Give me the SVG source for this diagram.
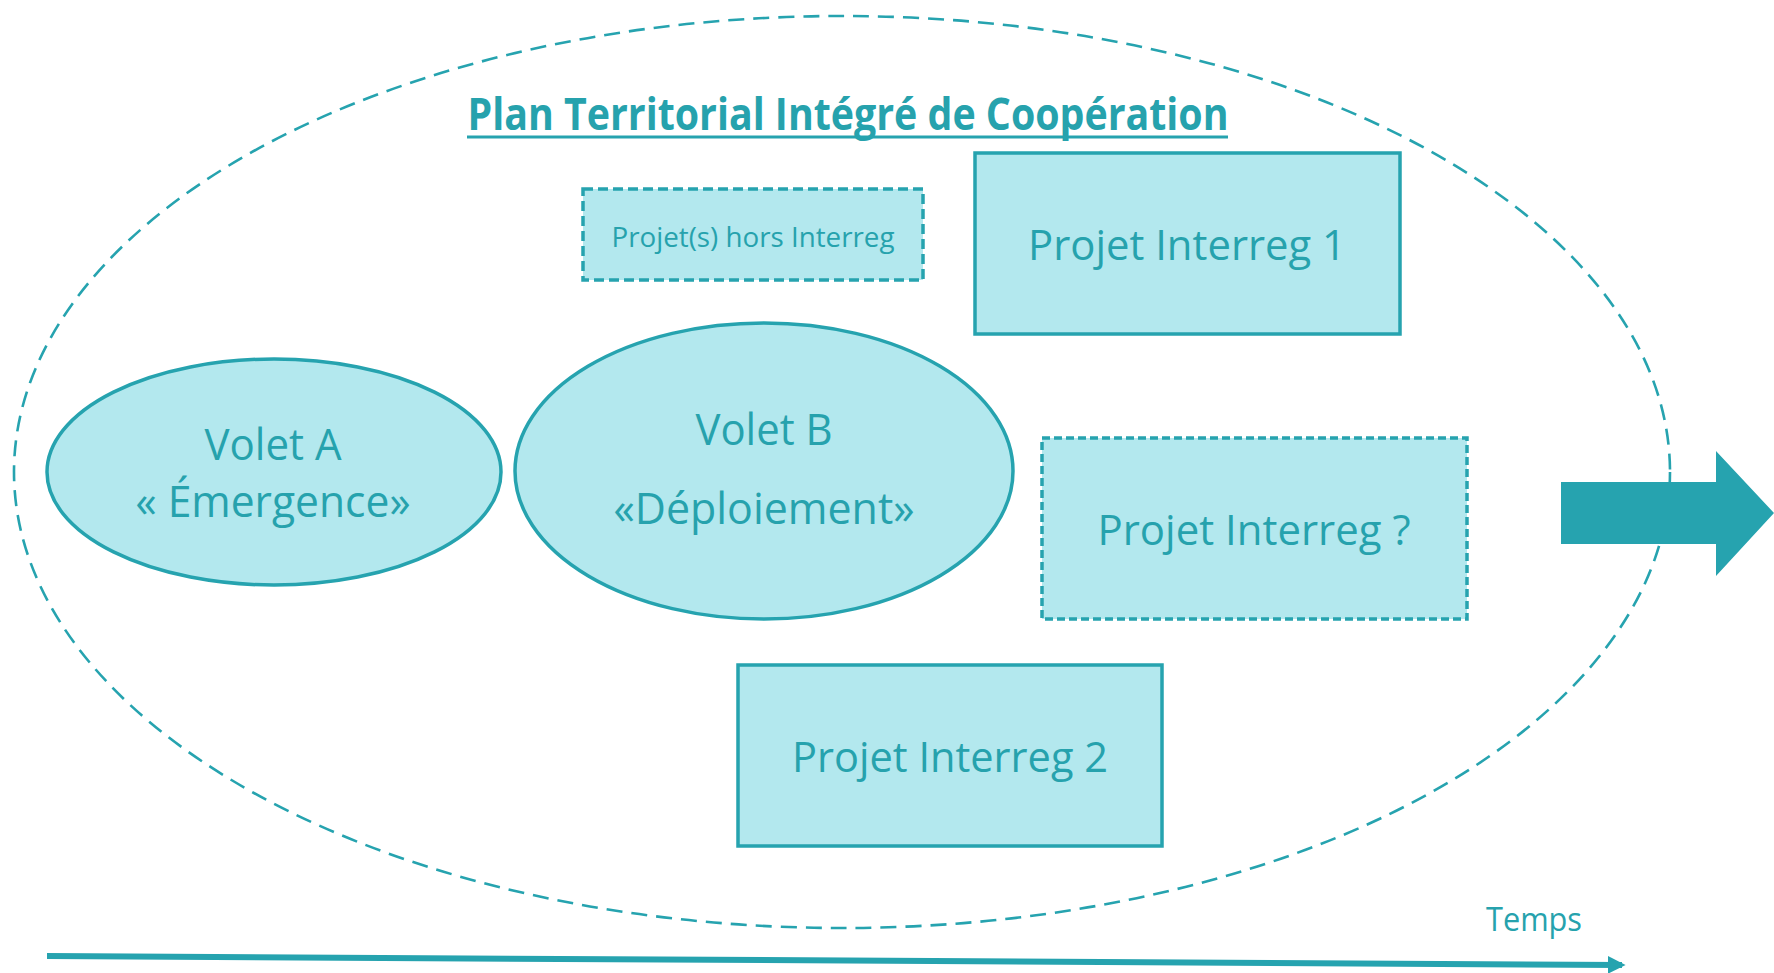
<svg xmlns="http://www.w3.org/2000/svg" width="1774" height="973" viewBox="0 0 1774 973">
<defs>
<style>
.t{font-family:"Open Sans","Liberation Sans",sans-serif;fill:#26A2AD;text-anchor:middle}
.box{fill:#B3E8EE;stroke:#26A3AF;stroke-width:3.5}
</style>
<marker id="ah" viewBox="0 0 10 10" refX="8" refY="5" markerWidth="3" markerHeight="3" orient="auto"><path d="M0,0 L10,5 L0,10 z" fill="#26A3AF"/></marker>
</defs>
<rect width="1774" height="973" fill="#fff"/>
<g id="frame">
<ellipse cx="842" cy="472" rx="828" ry="456" fill="none" stroke="#26A3AF" stroke-width="2.6" stroke-dasharray="16 9"/>
<text class="t" x="848" y="130" font-size="45" font-weight="bold" textLength="761" lengthAdjust="spacingAndGlyphs">Plan Territorial Intégré de Coopération</text>
<line x1="467" y1="137" x2="1228" y2="137" stroke="#26A3AF" stroke-width="3"/>
</g>
<g id="hors">
<rect class="box" x="583" y="189" width="340" height="91" stroke-dasharray="10 5"/>
<text class="t" x="753" y="247" font-size="28" textLength="283" lengthAdjust="spacingAndGlyphs">Projet(s) hors Interreg</text>
</g>
<g id="p1">
<rect class="box" x="975" y="153" width="425" height="181"/>
<text class="t" x="1187" y="260" font-size="42" textLength="318" lengthAdjust="spacingAndGlyphs">Projet Interreg 1</text>
</g>
<g id="pq">
<rect class="box" x="1042" y="438" width="425" height="181" stroke-width="2.5" stroke-dasharray="8 4"/>
<text class="t" x="1254" y="545" font-size="42" textLength="313" lengthAdjust="spacingAndGlyphs">Projet Interreg ?</text>
</g>
<g id="p2">
<rect class="box" x="738" y="665" width="424" height="181"/>
<text class="t" x="950" y="772" font-size="42" textLength="316" lengthAdjust="spacingAndGlyphs">Projet Interreg 2</text>
</g>
<g id="voletA">
<ellipse class="box" cx="274" cy="472" rx="227" ry="113"/>
<text class="t" x="273" y="460" font-size="44" textLength="137" lengthAdjust="spacingAndGlyphs">Volet A</text>
<text class="t" x="273" y="517" font-size="44" textLength="275" lengthAdjust="spacingAndGlyphs">« Émergence»</text>
</g>
<g id="voletB">
<ellipse class="box" cx="764" cy="471" rx="249" ry="148"/>
<text class="t" x="764" y="445" font-size="44" textLength="137" lengthAdjust="spacingAndGlyphs">Volet B</text>
<text class="t" x="764" y="524" font-size="44" textLength="301" lengthAdjust="spacingAndGlyphs">«Déploiement»</text>
</g>
<g id="connectors">
<path d="M1561,482 H1716 V451 L1774,513 L1716,576 V544 H1561 z" fill="#26A3AF"/>
<line x1="47" y1="956" x2="1622" y2="965" stroke="#26A3AF" stroke-width="6" marker-end="url(#ah)"/>
</g>
<g id="temps">
<text class="t" x="1534" y="931" font-size="32" textLength="96" lengthAdjust="spacingAndGlyphs">Temps</text>
</g>
</svg>
